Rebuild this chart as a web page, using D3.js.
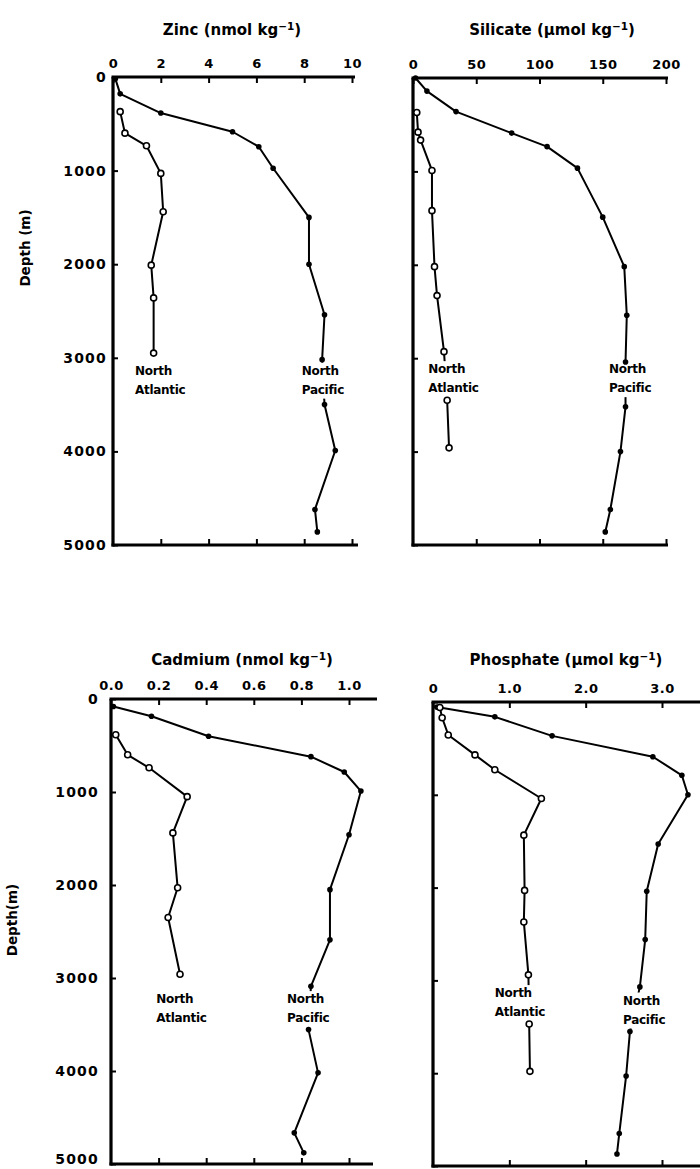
<!DOCTYPE html>
<html>
<head>
<meta charset="utf-8">
<script src="https://cdn.jsdelivr.net/npm/d3@7"></script>
<style>
  html, body { margin: 0; padding: 0; background: #fff; }
  svg { display: block; font-family: "DejaVu Sans", "Liberation Sans", sans-serif; font-weight: bold; }
</style>
</head>
<body>
<svg id="chart" width="700" height="1169"></svg>
<script>
// ---------- DATA (value, depth in m) ----------
const depthTicks = [0, 1000, 2000, 3000, 4000, 5000];

const zincTicks = [0, 2, 4, 6, 8, 10];
const zincPacific = [[0.1,20],[0.3,180],[2.0,385],[5.0,585],[6.1,745],[6.7,975],[8.2,1500],[8.2,2000],[8.85,2540],[8.75,3020],[8.85,3500],[9.3,3990],[8.45,4620],[8.55,4860]];
const zincAtlantic = [[0.3,370],[0.5,600],[1.4,735],[2.0,1030],[2.1,1440],[1.6,2010],[1.7,2360],[1.7,2950]];

const silicateTicks = [0, 50, 100, 150, 200];
const silicatePacific = [[2,0],[11,140],[34,360],[78,590],[106,735],[130,965],[150,1490],[167,2020],[169,2540],[168,3040],[168,3520],[164,4000],[156,4620],[152,4860]];
const silicateAtlantic = [[3,370],[4,580],[6,665],[15,990],[15,1420],[17,2020],[19,2330],[24.5,2930],[27,3450],[28.5,3960]];

const cadmiumTicks = [0, 0.2, 0.4, 0.6, 0.8, 1.0];
const cadmiumPacific = [[0.01,80],[0.17,185],[0.41,400],[0.84,620],[0.98,785],[1.05,990],[1.0,1460],[0.92,2050],[0.92,2590],[0.84,3090],[0.83,3555],[0.87,4020],[0.77,4665],[0.81,4880]];
const cadmiumAtlantic = [[0.02,385],[0.07,600],[0.16,740],[0.32,1050],[0.26,1440],[0.28,2030],[0.24,2350],[0.29,2960]];

const phosphateTicks = [0, 1, 2, 3];
const phosphatePacific = [[0.05,55],[0.81,160],[1.56,365],[2.88,590],[3.26,790],[3.34,1000],[2.95,1530],[2.8,2040],[2.78,2560],[2.71,3070],[2.58,3550],[2.53,4030],[2.44,4650],[2.41,4870]];
const phosphateAtlantic = [[0.09,60],[0.12,170],[0.2,355],[0.55,570],[0.81,730],[1.42,1040],[1.19,1435],[1.2,2030],[1.19,2370],[1.25,2940],[1.26,3470],[1.27,3980]];

// ---------- LAYOUT ----------
const panels = [
  { title: "Zinc (nmol kg", titleX: 232, titleY: 35,
    xDomain: [0, 10], xRange: [113, 352], yRange: [77, 545], topEnd: 355, bottomEnd: 358,
    ticks: zincTicks, fmt: d => d, depthLabels: true, leftPad: 6,
    pacific: zincPacific, atlantic: zincAtlantic,
    atlLabel: [0.92, 3180], pacLabel: [7.9, 3180] },
  { title: "Silicate (μmol kg", titleX: 552, titleY: 35,
    xDomain: [0, 200], xRange: [413, 666], yRange: [78, 545], topEnd: 668, bottomEnd: 668,
    ticks: silicateTicks, fmt: d => d, depthLabels: false, leftPad: 6,
    pacific: silicatePacific, atlantic: silicateAtlantic,
    atlLabel: [12, 3160], pacLabel: [155, 3160] },
  { title: "Cadmium (nmol kg", titleX: 242, titleY: 665,
    xDomain: [0, 1.0], xRange: [111, 349], yRange: [699, 1164], topEnd: 377, bottomEnd: 373,
    ticks: cadmiumTicks, fmt: d3.format(".1f"), depthLabels: true, leftPad: 12,
    pacific: cadmiumPacific, atlantic: cadmiumAtlantic,
    atlLabel: [0.19, 3270], pacLabel: [0.74, 3270] },
  { title: "Phosphate (μmol kg", titleX: 566, titleY: 665,
    xDomain: [0, 3], xRange: [433, 662], yRange: [702, 1166], topEnd: 700, bottomEnd: 700,
    ticks: phosphateTicks, fmt: d => d === 0 ? "0" : d3.format(".1f")(d), depthLabels: false, leftPad: 6,
    pacific: phosphatePacific, atlantic: phosphateAtlantic,
    atlLabel: [0.81, 3180], pacLabel: [2.49, 3260] }
];

const svg = d3.select("#chart");

// y-axis titles
svg.append("text").attr("transform", "translate(30,248) rotate(-90)")
  .attr("text-anchor", "middle").attr("font-size", 13.5).text("Depth (m)");
svg.append("text").attr("transform", "translate(17,920) rotate(-90)")
  .attr("text-anchor", "middle").attr("font-size", 13.5).text("Depth(m)");

panels.forEach(p => {
  const x = d3.scaleLinear().domain(p.xDomain).range(p.xRange);
  const y = d3.scaleLinear().domain([0, 5000]).range(p.yRange);
  const g = svg.append("g");

  // title
  const t = g.append("text").attr("x", p.titleX).attr("y", p.titleY)
    .attr("text-anchor", "middle").attr("font-size", 15).text(p.title);
  t.append("tspan").attr("dy", -5).attr("font-size", 10.5).text("−1");
  t.append("tspan").attr("dy", 5).text(")");

  // top axis
  const top = g.append("g").attr("transform", `translate(0,${y(0)})`)
    .call(d3.axisTop(x).tickValues(p.ticks).tickFormat(p.fmt).tickSizeInner(-6).tickSizeOuter(0).tickPadding(9));
  top.select(".domain").remove();
  top.selectAll("line").attr("stroke", "#000").attr("stroke-width", 2);
  top.selectAll("text").attr("font-size", 13).attr("font-family", "DejaVu Sans").attr("font-weight", "bold").attr("letter-spacing", 0.5);

  // bottom axis ticks
  const bot = g.append("g").attr("transform", `translate(0,${y(5000)})`)
    .call(d3.axisBottom(x).tickValues(p.ticks.slice(1)).tickFormat("").tickSizeInner(-6).tickSizeOuter(0));
  bot.select(".domain").remove();
  bot.selectAll("line").attr("stroke", "#000").attr("stroke-width", 2);

  // left axis
  const left = g.append("g").attr("transform", `translate(${x(0)},0)`)
    .call(d3.axisLeft(y).tickValues(depthTicks).tickFormat(p.depthLabels ? (d => d) : "").tickSizeInner(-5).tickSizeOuter(0).tickPadding(p.leftPad));
  left.select(".domain").remove();
  left.selectAll("line").attr("stroke", "#000").attr("stroke-width", 2);
  left.selectAll("text").attr("font-size", 14).attr("font-family", "DejaVu Sans").attr("font-weight", "bold").attr("letter-spacing", 1.2);
  // keep the lowest label inside the picture
  left.selectAll(".tick").filter(d => d === 5000).select("text")
    .attr("dy", function() { return y(5000) > 1150 ? "-0.05em" : "0.32em"; });

  // frame lines
  const x0 = x(0);
  g.append("line").attr("x1", x0 - 1.5).attr("x2", p.topEnd).attr("y1", y(0)).attr("y2", y(0))
    .attr("stroke", "#000").attr("stroke-width", 3);
  g.append("line").attr("x1", x0).attr("x2", x0).attr("y1", y(0)).attr("y2", y(5000) + 1.5)
    .attr("stroke", "#000").attr("stroke-width", 3.2);
  g.append("line").attr("x1", x0 - 1.5).attr("x2", p.bottomEnd).attr("y1", y(5000)).attr("y2", y(5000))
    .attr("stroke", "#000").attr("stroke-width", 3);

  // profile lines
  const line = d3.line().x(d => x(d[0])).y(d => y(d[1]));
  [p.pacific, p.atlantic].forEach(s => {
    g.append("path").datum(s).attr("d", line)
      .attr("fill", "none").attr("stroke", "#000").attr("stroke-width", 2).attr("stroke-linejoin", "round");
  });

  // label backgrounds + labels
  const labels = [
    { pos: p.atlLabel, lines: ["North", "Atlantic"] },
    { pos: p.pacLabel, lines: ["North", "Pacific"] }
  ];
  labels.forEach(l => {
    const lx = x(l.pos[0]), ly = y(l.pos[1]);
    const lg = g.append("g");
    lg.append("rect").attr("x", lx - 2).attr("y", ly - 12).attr("width", 56).attr("height", 36).attr("fill", "#fff");
    l.lines.forEach((txt, i) => {
      lg.append("text").attr("x", lx).attr("y", ly + i * 19).attr("font-size", 12)
        .attr("font-family", "DejaVu Sans").attr("font-weight", "bold").attr("letter-spacing", -0.3).text(txt);
    });
  });

  // markers
  g.selectAll(".pac").data(p.pacific).join("circle")
    .attr("cx", d => x(d[0])).attr("cy", d => y(d[1])).attr("r", 2.8).attr("fill", "#000");
  g.selectAll(".atl").data(p.atlantic).join("circle")
    .attr("cx", d => x(d[0])).attr("cy", d => y(d[1])).attr("r", 3)
    .attr("fill", "#fff").attr("stroke", "#000").attr("stroke-width", 1.6);
});
</script>
</body>
</html>
